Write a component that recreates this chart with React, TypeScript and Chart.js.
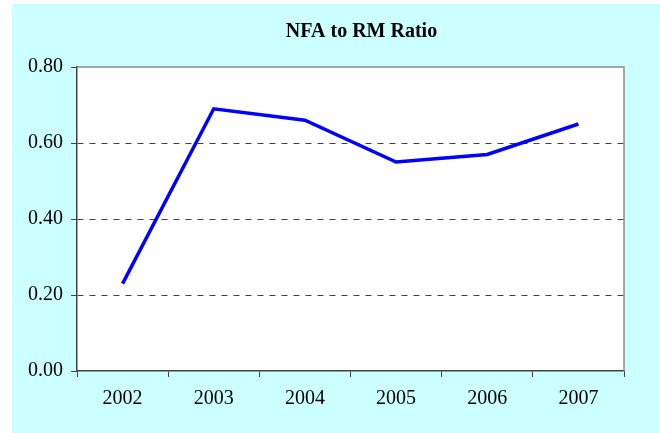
import React, { useEffect, useRef } from "react";
import { Chart, registerables } from "chart.js";

Chart.register(...registerables);

const TITLE = "NFA to RM Ratio";
const YEARS = ["2002", "2003", "2004", "2005", "2006", "2007"];
const RATIO = [0.23, 0.69, 0.66, 0.55, 0.57, 0.65];
const Y_MIN = 0;
const Y_MAX = 0.8;
const Y_STEP = 0.2;

const FONT = "'Liberation Serif', 'Times New Roman', serif";

export default function App() {
  const ref = useRef<HTMLCanvasElement | null>(null);

  useEffect(() => {
    if (!ref.current) return;
    const framePlugin = {
      id: "frame",
      beforeDraw(chart: any) {
        const { ctx, chartArea: a } = chart;
        ctx.save();
        ctx.fillStyle = "#ffffff";
        ctx.fillRect(a.left, a.top, a.right - a.left, a.bottom - a.top);
        ctx.restore();
      },
      afterDraw(chart: any) {
        const { ctx, chartArea: a } = chart;
        ctx.save();
        ctx.strokeStyle = "#8a8a8a";
        ctx.lineWidth = 1.5;
        ctx.beginPath();
        ctx.moveTo(a.left, a.top);
        ctx.lineTo(a.right, a.top);
        ctx.lineTo(a.right, a.bottom);
        ctx.stroke();
        ctx.fillStyle = "#000000";
        ctx.font = `bold 20px ${FONT}`;
        ctx.textAlign = "center";
        ctx.textBaseline = "alphabetic";
        ctx.fillText(TITLE, 349.5, 33);
        ctx.restore();
      },
    };

    const chart = new Chart(ref.current, {
      type: "line",
      data: {
        labels: YEARS,
        datasets: [
          {
            label: TITLE,
            data: RATIO,
            borderColor: "#0000ff",
            borderWidth: 3.5,
            pointRadius: 0,
            tension: 0,
            fill: false,
          },
        ],
      },
      options: {
        animation: false,
        responsive: false,
        maintainAspectRatio: false,
        layout: { padding: { top: 63, right: 36, left: 0, bottom: 0 } },
        plugins: {
          legend: { display: false },
          title: { display: false },
          tooltip: { enabled: false },
        },
        scales: {
          x: {
            type: "category",
            offset: true,
            grid: {
              offset: true,
              drawOnChartArea: false,
              drawTicks: true,
              tickLength: 6,
              tickColor: "#404040",
              tickWidth: 1,
            },
            border: { display: true, color: "#404040", width: 1.5 },
            ticks: {
              color: "#000000",
              font: { family: FONT, size: 20 },
              padding: 10,
              maxRotation: 0,
            },
            afterFit(scale: any) {
              scale.height = 62;
            },
          },
          y: {
            min: Y_MIN,
            max: Y_MAX,
            ticks: {
              stepSize: Y_STEP,
              color: "#000000",
              font: { family: FONT, size: 20 },
              padding: 8,
              callback: (v: any) => Number(v).toFixed(2),
            },
            grid: {
              color: (c: any) =>
                c.tick && (Math.abs(c.tick.value - Y_MIN) < 1e-9 || Math.abs(c.tick.value - Y_MAX) < 1e-9)
                  ? "rgba(0,0,0,0)"
                  : "#404040",
              lineWidth: 1,
              drawTicks: true,
              tickLength: 6,
              tickColor: "#404040",
              tickWidth: 1,
            },
            border: { display: true, color: "#404040", width: 1.5, dash: [6, 6] },
            afterFit(scale: any) {
              scale.width = 65;
            },
          },
        },
      },
      plugins: [framePlugin],
    });
    return () => chart.destroy();
  }, []);

  return (
    <div
      style={{
        position: "fixed",
        left: 0,
        top: 0,
        width: 660,
        height: 433,
        overflow: "hidden",
        background: "#ffffff",
      }}
    >
      <div
        style={{
          position: "absolute",
          left: 12,
          top: 4,
          width: 648,
          height: 429,
          background: "#ccffff",
        }}
      >
        <canvas ref={ref} width={648} height={429} style={{ display: "block", width: 648, height: 429 }} />
      </div>
    </div>
  );
}
